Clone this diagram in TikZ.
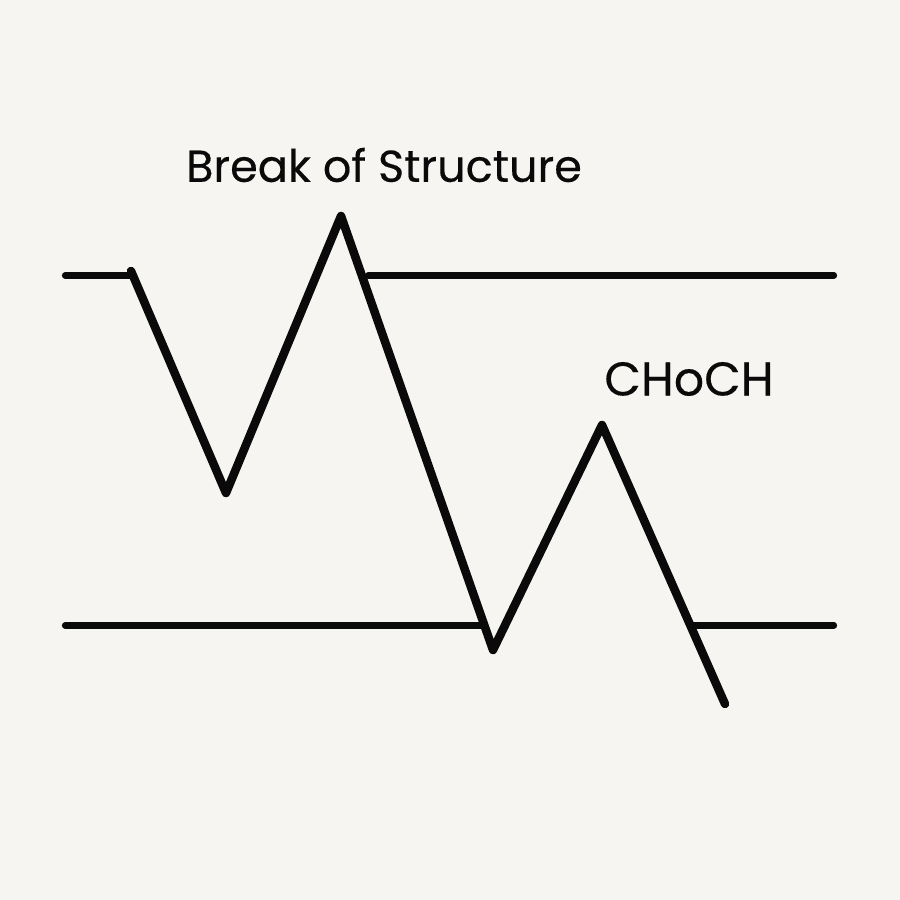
\documentclass[tikz,border=0pt]{standalone}
\usepackage{fontspec}
\usepackage{xcolor}
\newfontfamily\tagfont[FakeBold=0.3]{Poppins}
\usetikzlibrary{positioning, calc}
\definecolor{paper}{HTML}{F6F5F1}
\definecolor{ink}{HTML}{0A0A0A}
\tikzset{
    price/.style={line width=0.85mm, ink, line cap=round, line join=round},
    level/.style={line width=0.62mm, ink, line cap=round},
    tag/.style={inner sep=0pt, text=ink, font=\tagfont\fontsize{12.7}{15}\selectfont}
}
\begin{document}
\begin{tikzpicture}[x=0.1cm,y=-0.1cm]
    \fill[paper] (0,0) rectangle (90,90);
    \useasboundingbox (0,0) rectangle (90,90);
    % swing points of the price line
    \coordinate (start) at (13.1,27.1);
    \coordinate (lowA) at (22.6,49.3);
    \coordinate (highA) at (34.1,21.6);
    \coordinate (lowB) at (49.3,65);
    \coordinate (highB) at (60.2,42.5);
    \coordinate (stop) at (72.5,70.4);
    % ends of the two levels
    \coordinate (topL) at (6.5,27.55);
    \coordinate (topM) at (36.8,27.55);
    \coordinate (topR) at (83.4,27.55);
    \coordinate (botL) at (6.5,62.55);
    \coordinate (botM) at (48.2,62.55);
    \coordinate (botN) at (69.3,62.55);
    \coordinate (botR) at (83.4,62.55);
    \draw[level] (topL) -- (start |- topL);
    \draw[level] (topM) -- (topR);
    \draw[level] (botL) -- (botM);
    \draw[level] (botN) -- (botR);
    \draw[price] (start) -- (lowA) -- (highA) -- (lowB) -- (highB) -- (stop);
    \node[tag] (bos) at (38.4,16.5) {Break of Structure};
    \node[tag, font=\tagfont\fontsize{13.5}{16}\selectfont] (choch) at (68.9,37.9) {CHoCH};
\end{tikzpicture}
\end{document}
